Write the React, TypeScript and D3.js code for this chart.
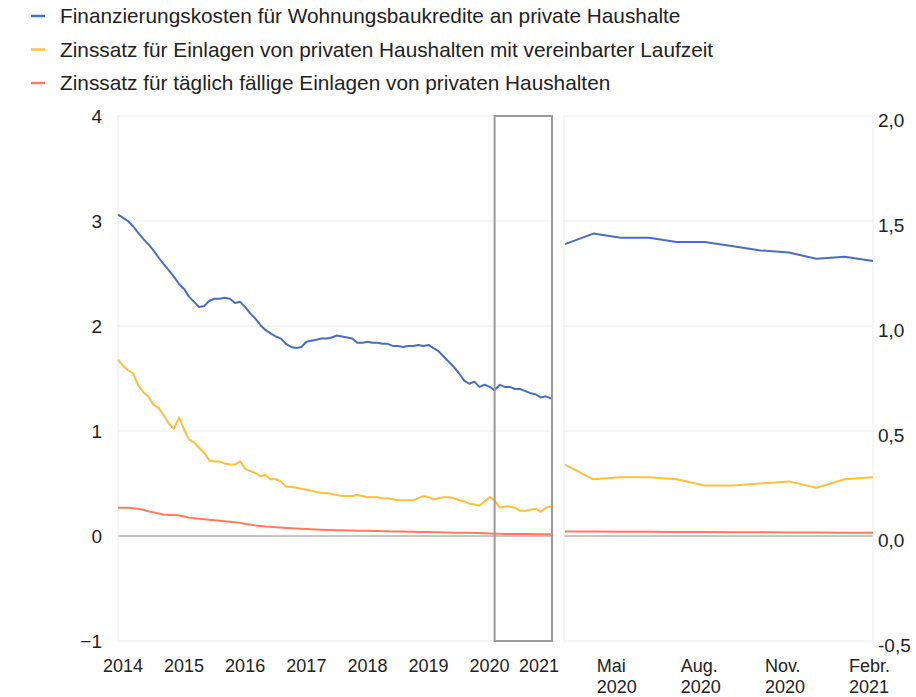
import React from 'react';
import * as d3 from 'd3';

// ---------- DATA ----------
const startYear = 2014;
const startMonthIndex = 0; // January 2014
const seriesNames = [
  'Finanzierungskosten für Wohnungsbaukredite an private Haushalte',
  'Zinssatz für Einlagen von privaten Haushalten mit vereinbarter Laufzeit',
  'Zinssatz für täglich fällige Einlagen von privaten Haushalten',
];

// monthly values, Jan 2014 – Feb 2021
const housingLoanCost = [
  3.06, 3.03, 3.00, 2.95, 2.89, 2.83, 2.78, 2.72, 2.65, 2.59,
  2.53, 2.47, 2.40, 2.35, 2.28, 2.23, 2.18, 2.19, 2.24, 2.26,
  2.26, 2.27, 2.26, 2.22, 2.23, 2.18, 2.12, 2.07, 2.01, 1.96,
  1.93, 1.90, 1.88, 1.83, 1.80, 1.79, 1.80, 1.85, 1.86, 1.87,
  1.88, 1.88, 1.89, 1.91, 1.90, 1.89, 1.88, 1.84, 1.84, 1.85,
  1.84, 1.84, 1.83, 1.83, 1.81, 1.81, 1.80, 1.81, 1.81, 1.82,
  1.81, 1.82, 1.79, 1.76, 1.71, 1.66, 1.61, 1.55, 1.48, 1.45,
  1.47, 1.42, 1.44, 1.42, 1.39, 1.44, 1.42, 1.42, 1.40, 1.40,
  1.38, 1.36, 1.35, 1.32, 1.33, 1.31,
];
const timeDepositRate = [
  1.68, 1.62, 1.58, 1.55, 1.44, 1.37, 1.33, 1.25, 1.22, 1.15,
  1.07, 1.02, 1.13, 1.01, 0.92, 0.89, 0.84, 0.79, 0.72, 0.71,
  0.71, 0.69, 0.68, 0.68, 0.71, 0.64, 0.62, 0.60, 0.57, 0.58,
  0.54, 0.54, 0.52, 0.47, 0.47, 0.46, 0.45, 0.44, 0.43, 0.42,
  0.41, 0.41, 0.40, 0.39, 0.38, 0.38, 0.38, 0.39, 0.38, 0.37,
  0.37, 0.37, 0.36, 0.36, 0.35, 0.34, 0.34, 0.34, 0.34, 0.36,
  0.38, 0.37, 0.35, 0.36, 0.37, 0.37, 0.36, 0.34, 0.33, 0.31,
  0.30, 0.29, 0.33, 0.37, 0.34, 0.27, 0.28, 0.28, 0.27, 0.24,
  0.24, 0.25, 0.26, 0.23, 0.27, 0.28,
];
const overnightDepositRate = [
  0.27, 0.27, 0.27, 0.265, 0.26, 0.25, 0.235, 0.225, 0.215, 0.205,
  0.20, 0.20, 0.195, 0.185, 0.175, 0.17, 0.165, 0.16, 0.155, 0.15,
  0.145, 0.14, 0.135, 0.13, 0.125, 0.115, 0.11, 0.10, 0.095, 0.09,
  0.087, 0.083, 0.08, 0.077, 0.074, 0.072, 0.069, 0.066, 0.064, 0.062,
  0.06, 0.058, 0.056, 0.055, 0.054, 0.053, 0.052, 0.051, 0.05, 0.049,
  0.048, 0.047, 0.046, 0.045, 0.044, 0.043, 0.042, 0.041, 0.04, 0.039,
  0.038, 0.037, 0.036, 0.035, 0.034, 0.033, 0.032, 0.031, 0.03, 0.03,
  0.029, 0.028, 0.026, 0.024, 0.022, 0.021, 0.02, 0.02, 0.019, 0.019,
  0.018, 0.018, 0.017, 0.017, 0.016, 0.016,
];

const yearLabels = ['2014', '2015', '2016', '2017', '2018', '2019', '2020', '2021'];
const zoomStart = 74; // March 2020
const zoomTickMonths = [76, 79, 82, 85]; // May 2020, Aug 2020, Nov 2020, Feb 2021
const zoomTickLabels = [['Mai', '2020'], ['Aug.', '2020'], ['Nov.', '2020'], ['Febr.', '2021']];
const leftTicks = [-1, 0, 1, 2, 3, 4];
const rightTicks = [-0.5, 0, 0.5, 1, 1.5, 2];

const colors = ['#4a6fbf', '#ffbf3a', '#ff7c5a'];
const FONT = "'Liberation Sans', Arial, sans-serif";

const allSeries = [housingLoanCost, timeDepositRate, overnightDepositRate];
const monthDate = (i: number) => new Date(startYear, startMonthIndex + i, 1);

export default function App() {
  const W = 916, H = 697;
  const top = 116, bottom = 641;
  const lx0 = 118, lx1 = 552;
  const rx0 = 564, rx1 = 873;

  const n = housingLoanCost.length;
  const xL = d3.scaleTime().domain([monthDate(0), monthDate(n - 1)]).range([lx0, lx1 - 1]);
  const xR = d3.scaleTime().domain([monthDate(zoomStart), monthDate(n - 1)]).range([rx0 + 1, rx1]);
  const yL = d3.scaleLinear().domain([-1, 4]).range([bottom, top]);
  const yR = d3.scaleLinear().domain([-0.5, 2]).range([bottom, top]);

  const lineL = d3.line<number>().x((_, i) => xL(monthDate(i))).y(d => yL(d));
  const lineR = d3.line<number>().x((_, i) => xR(monthDate(zoomStart + i))).y(d => yR(d));
  const fmtR = (v: number) => (v < 0 ? '-' : '') + Math.abs(v).toFixed(1).replace('.', ',');
  const fmtL = (v: number) => (v < 0 ? '\u2212' + Math.abs(v) : String(v));

  return (
    <svg width={W} height={H} style={{ position: 'absolute', left: 0, top: 0, background: '#fff' }}
      fontFamily={FONT}>
      <rect x={0} y={0} width={W} height={H} fill="#fff" />
      {/* legend */}
      {seriesNames.map((name, i) => {
        const cy = 16 + i * 33.5;
        return (
          <g key={name}>
            <line x1={31} x2={45} y1={cy} y2={cy} stroke={colors[i]} strokeWidth={2.5} />
            <text x={60} y={cy + 7} fontSize={20.8} fill="#222">{name}</text>
          </g>
        );
      })}

      {/* left panel grid */}
      {leftTicks.map(t => (
        <line key={'gl' + t} x1={lx0} x2={lx1} y1={yL(t)} y2={yL(t)}
          stroke={t === 0 ? '#b4b4b4' : '#ececec'} strokeWidth={t === 0 ? 1.5 : 1} />
      ))}
      <line x1={lx0} x2={lx0} y1={top} y2={bottom} stroke="#ececec" />
      {/* right panel grid */}
      {rightTicks.map(t => (
        <line key={'gr' + t} x1={rx0} x2={rx1} y1={yR(t)} y2={yR(t)}
          stroke={t === 0 ? '#b4b4b4' : '#ececec'} strokeWidth={t === 0 ? 1.5 : 1} />
      ))}
      <line x1={rx0} x2={rx0} y1={top} y2={bottom} stroke="#ececec" />
      <line x1={rx1} x2={rx1} y1={top} y2={bottom} stroke="#ececec" />

      {/* left axis labels */}
      {leftTicks.map(t => (
        <text key={'tl' + t} x={102} y={yL(t) + 7} textAnchor="end" fontSize={19} fill="#222">{fmtL(t)}</text>
      ))}
      {/* right axis labels */}
      {rightTicks.map(t => (
        <text key={'tr' + t} x={878} y={yR(t) + 11} textAnchor="start" fontSize={19} fill="#222">{fmtR(t)}</text>
      ))}

      {/* left x labels */}
      {yearLabels.map((lab) => {
        const cx = Math.min(xL(new Date(+lab, 0, 1)) + 5, 539);
        return <text key={lab} x={cx} y={672} textAnchor="middle" fontSize={18} fill="#222">{lab}</text>;
      })}
      {/* right x labels */}
      {zoomTickMonths.map((m, i) => {
        const cx = xR(monthDate(m)) - 24;
        return (
          <text key={'m' + m} x={cx} y={672} fontSize={18} fill="#222">
            <tspan x={cx}>{zoomTickLabels[i][0]}</tspan>
            <tspan x={cx} y={693}>{zoomTickLabels[i][1]}</tspan>
          </text>
        );
      })}

      {/* left lines (draw red first) */}
      {[2, 1, 0].map(i => (
        <path key={'pl' + i} d={lineL(allSeries[i]) || ''} fill="none" stroke={colors[i]} strokeWidth={2} strokeLinejoin="round" />
      ))}
      {/* right lines */}
      {[2, 1, 0].map(i => (
        <path key={'pr' + i} d={lineR(allSeries[i].slice(zoomStart)) || ''} fill="none" stroke={colors[i]} strokeWidth={2} strokeLinejoin="round" />
      ))}

      {/* zoom box */}
      <rect x={xL(monthDate(zoomStart))} y={top} width={lx1 - xL(monthDate(zoomStart))} height={bottom - top}
        fill="none" stroke="#9a9a9a" strokeWidth={2} />
    </svg>
  );
}
